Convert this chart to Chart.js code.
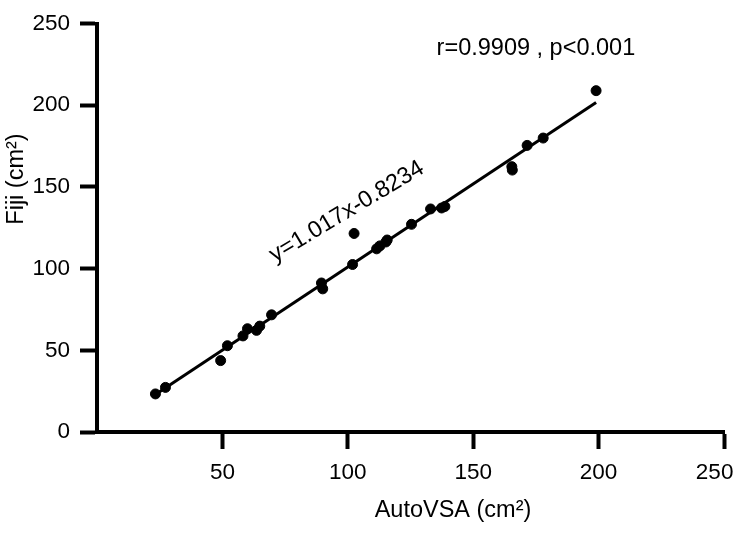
<!DOCTYPE html>
<html>
<head>
<meta charset="utf-8">
<script src="https://cdn.jsdelivr.net/npm/chart.js@4.4.1/dist/chart.umd.min.js"></script>
<style>
  html, body { margin: 0; padding: 0; background: #fff; }
  #wrap { width: 737px; height: 533px; }
</style>
</head>
<body>
<div id="wrap"><canvas id="grafico" width="737" height="533"></canvas></div>
<script>
// ================================================================
// AutoVSA x Fiji — dispersão com reta de regressão
// ================================================================

// Pontos (cm²)
const autoVSA = [23.3, 27.3, 49.3, 52.0, 58.2, 60.0, 63.6, 64.9, 69.6, 89.5, 90.0, 101.9, 102.5,
                 111.5, 112.8, 115.2, 115.7, 125.4, 133.0, 137.4, 138.7, 165.4, 165.6, 171.5, 177.9, 199.0];
const fiji    = [23.3, 27.3, 43.7, 52.8, 58.8, 63.2, 62.2, 64.8, 71.7, 91.2, 87.6, 102.5, 121.5,
                 112.1, 113.9, 116.3, 117.5, 127.1, 136.5, 137.1, 138.0, 162.4, 160.3, 175.4, 179.9, 208.9];

// Extremos da reta de ajuste
const ajusteX = [23.3, 199.0];
const ajusteY = [22.9, 201.6];

// Ticks dos eixos
const xTicks = [50, 100, 150, 200, 250];
const yTicks = [0, 50, 100, 150, 200, 250];

// Textos
const xTitulo = 'AutoVSA (cm²)';
const yTitulo = 'Fiji (cm²)';
const eqTexto = 'y=1.017x-0.8234';
const rTexto  = 'r=0.9909 , p<0.001';

const FAMILIA = '"Liberation Sans", Arial, sans-serif';
const PRETO   = '#000';

// Textos soltos (títulos dos eixos e anotações)
const textosExtras = {
  id: 'textosExtras',
  afterDraw(chart) {
    const { ctx, scales: { x, y } } = chart;
    ctx.save();
    ctx.fillStyle = PRETO;
    ctx.font = '23.5px ' + FAMILIA;
    ctx.textAlign = 'center';
    ctx.textBaseline = 'middle';

    // título eixo X
    ctx.fillText(xTitulo, 453, 511);

    // título eixo Y (vertical)
    ctx.save();
    ctx.translate(17, 179);
    ctx.rotate(-Math.PI / 2);
    ctx.fillText(yTitulo, 0, 0);
    ctx.restore();

    // r e p
    ctx.fillText(rTexto, x.getPixelForValue(175.0), y.getPixelForValue(234.6));

    // equação inclinada ao longo da reta
    ctx.save();
    ctx.translate(x.getPixelForValue(99.6), y.getPixelForValue(134.8));
    ctx.rotate(-31 * Math.PI / 180);
    ctx.fillText(eqTexto, 0, 0);
    ctx.restore();

    ctx.restore();
  }
};

const pontos = autoVSA.map((v, i) => ({ x: v, y: fiji[i] }));
const reta   = ajusteX.map((v, i) => ({ x: v, y: ajusteY[i] }));

new Chart(document.getElementById('grafico'), {
  type: 'scatter',
  data: {
    datasets: [
      { label: 'Ajuste', data: reta, showLine: true, borderColor: PRETO, borderWidth: 3,
        pointRadius: 0, order: 2 },
      { label: 'Pontos', data: pontos, backgroundColor: PRETO, borderColor: PRETO, borderWidth: 1,
        pointRadius: 5, order: 1 },
    ],
  },
  options: {
    responsive: false,
    animation: false,
    layout: { padding: { top: 14, right: 13, left: 0, bottom: 0 } },
    plugins: { legend: { display: false }, tooltip: { enabled: false } },
    scales: {
      x: {
        type: 'linear', min: 0, max: 250,
        afterBuildTicks: s => { s.ticks = xTicks.map(v => ({ value: v })); },
        afterFit: s => { s.height = 101; s.paddingLeft = 0; s.paddingRight = 0; },
        border: { display: true, width: 4, color: PRETO },
        grid: { drawOnChartArea: false, drawTicks: true, tickLength: 17, tickWidth: 4, tickColor: PRETO },
        ticks: {
          color: PRETO, padding: 10, maxRotation: 0, autoSkip: false,
          font: { family: FAMILIA, size: 22.5 },
          // último rótulo puxado para dentro, como no original
          callback: v => v === 250 ? v + '   ' : String(v),
        },
      },
      y: {
        type: 'linear', min: 0, max: 250,
        afterBuildTicks: s => { s.ticks = yTicks.map(v => ({ value: v })); },
        afterFit: s => { s.width = 97; },
        border: { display: true, width: 4, color: PRETO },
        grid: { drawOnChartArea: false, drawTicks: true, tickLength: 17, tickWidth: 4, tickColor: PRETO },
        ticks: { color: PRETO, padding: 10, autoSkip: false, font: { family: FAMILIA, size: 22.5 } },
      },
    },
  },
  plugins: [textosExtras],
});
</script>
</body>
</html>
